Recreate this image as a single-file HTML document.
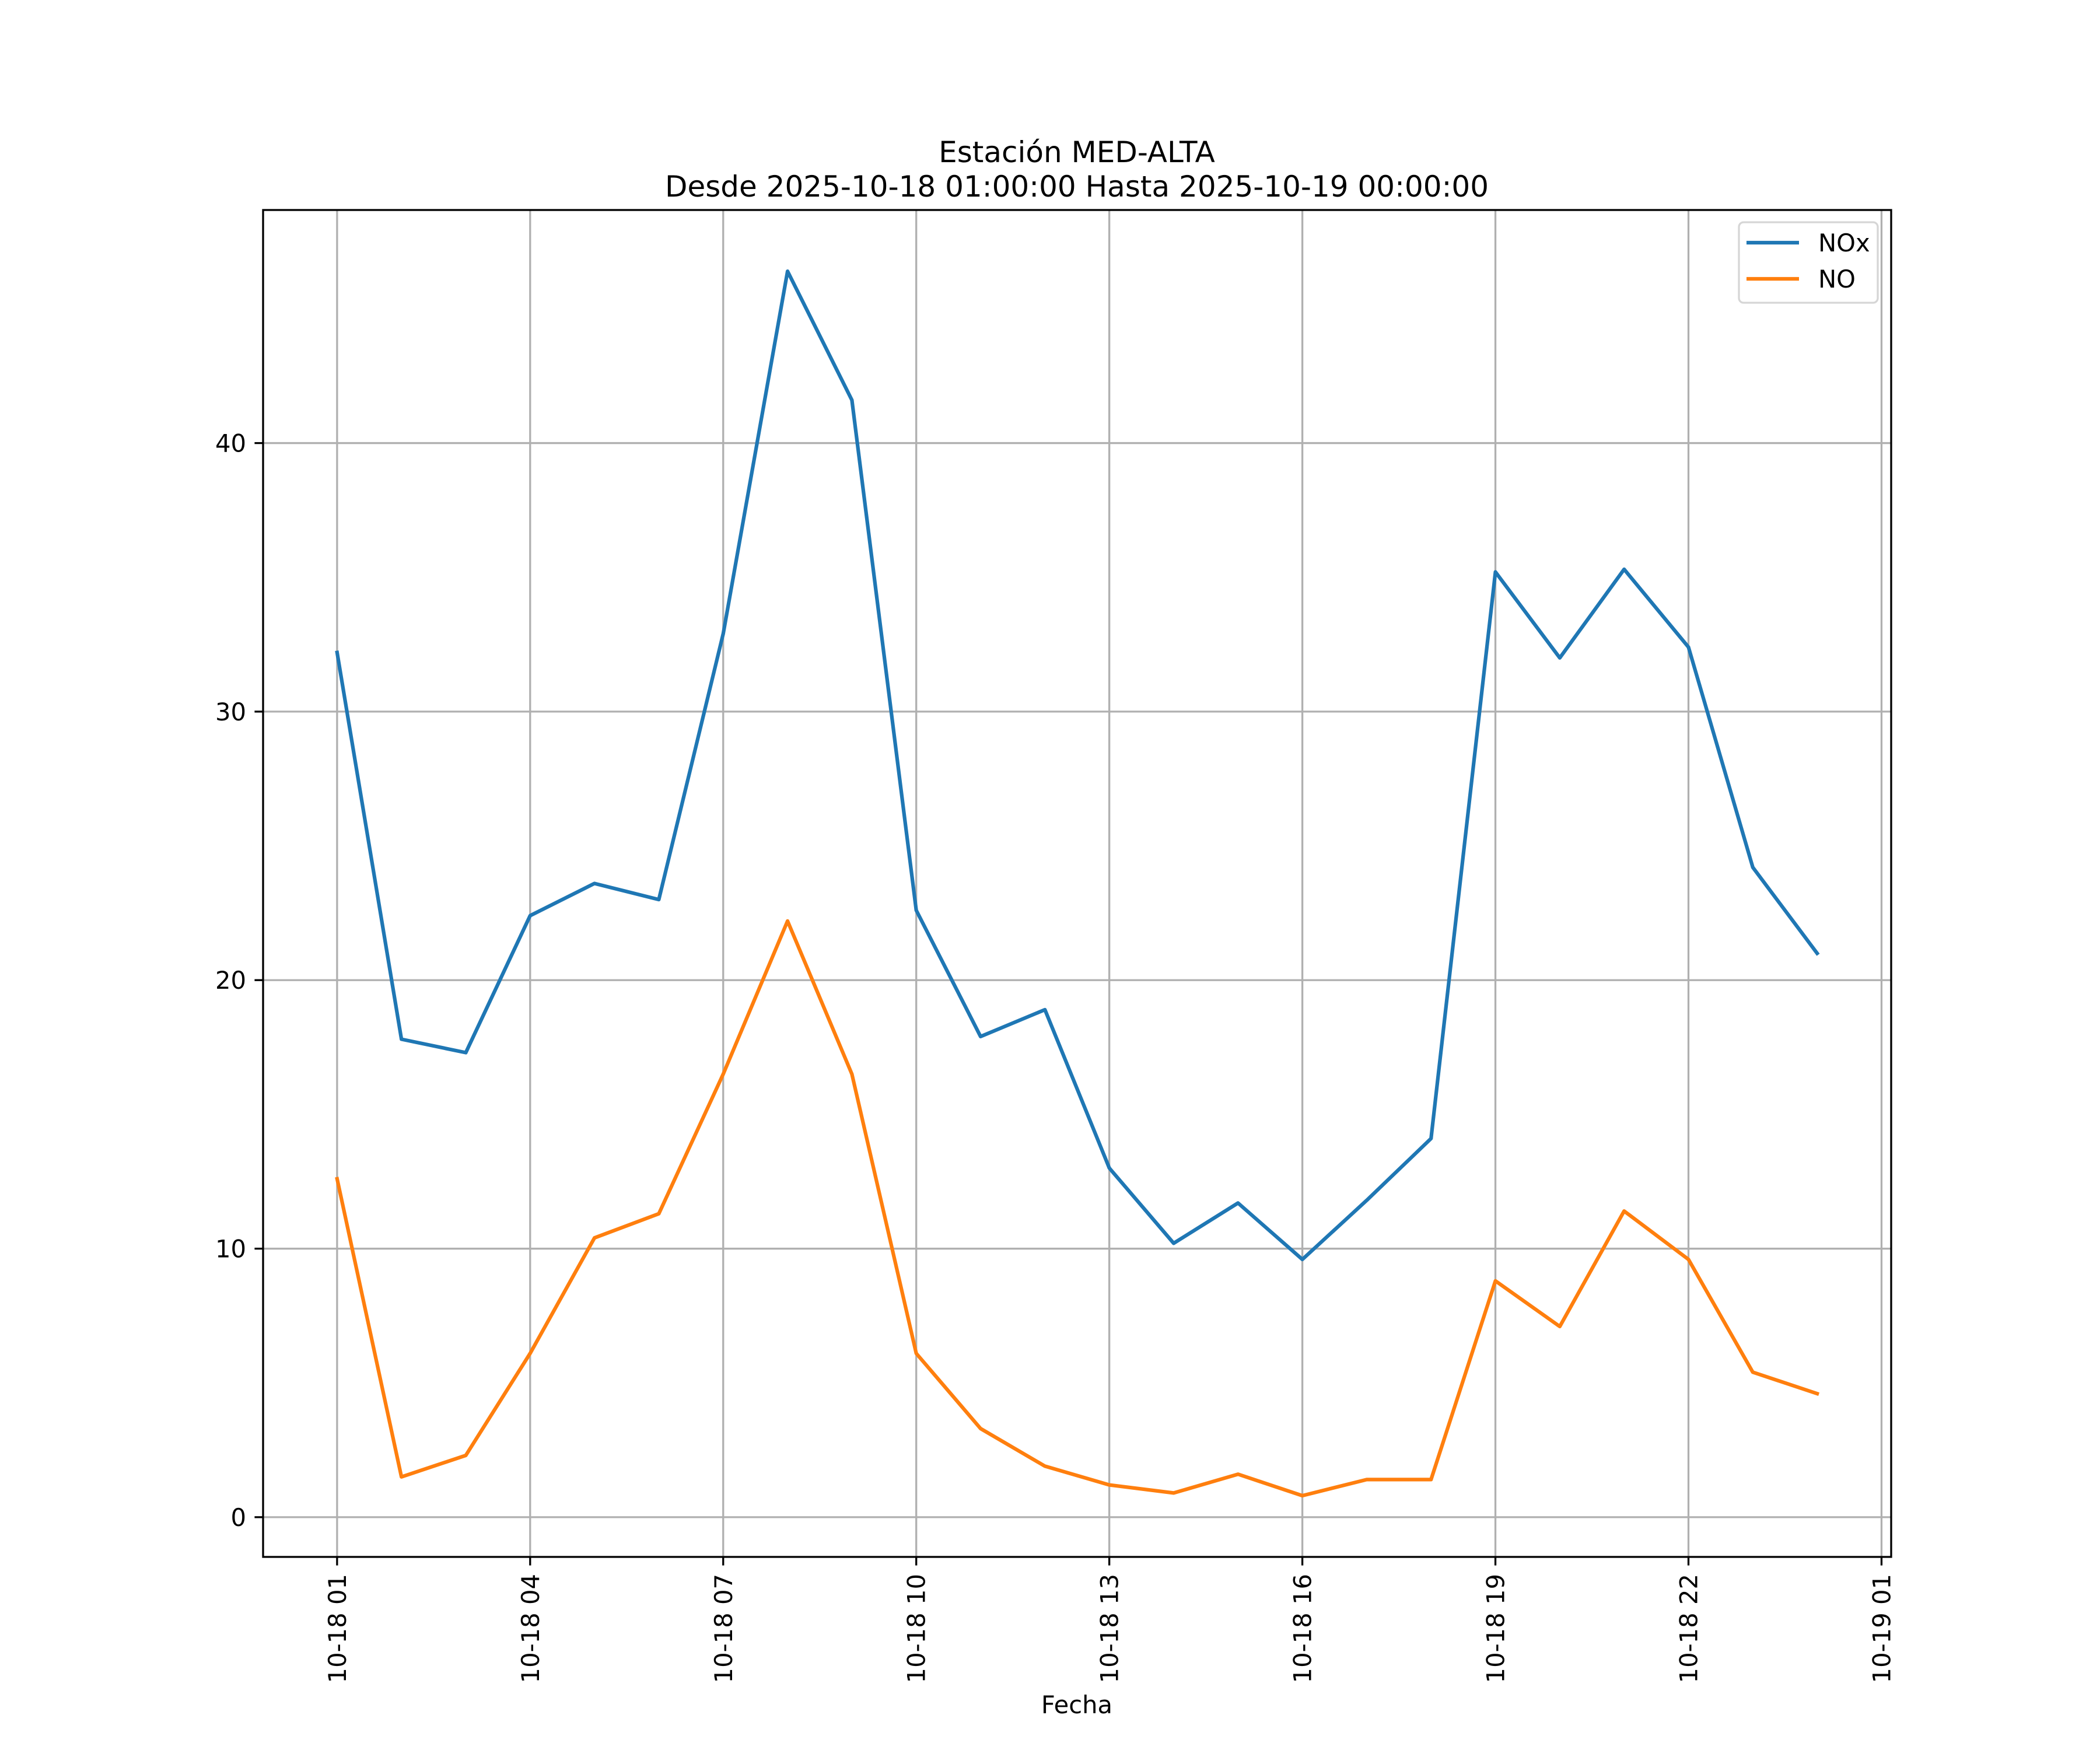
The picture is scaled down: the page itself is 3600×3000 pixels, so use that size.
<!DOCTYPE html>
<html><head><meta charset="utf-8"><style>
html,body{margin:0;padding:0;background:#fff}
svg{display:block}
text{font-family:"DejaVu Sans","Liberation Sans",sans-serif;fill:#000}
</style></head><body>
<svg id="chart" width="3600" height="3000" viewBox="0 0 3600 3000" xmlns="http://www.w3.org/2000/svg">
<rect width="3600" height="3000" fill="#fff"/>
<text x="1846" y="278" font-size="50" text-anchor="middle">Estación MED-ALTA</text>
<text x="1846" y="337" font-size="50" text-anchor="middle">Desde 2025-10-18 01:00:00 Hasta 2025-10-19 00:00:00</text>
<g id="grid"></g>
<g id="series"></g>
<rect x="451" y="360" width="2791" height="2309" fill="none" stroke="#000" stroke-width="3.3"/>
<g id="ticks"></g>
<text x="1846" y="2937" font-size="41.7" text-anchor="middle">Fecha</text>
<g>
<rect x="2981" y="381" width="238" height="138" rx="8" fill="#fff" fill-opacity="0.8" stroke="#d6d6d6" stroke-width="3.3"/>
<line x1="2994" y1="416" x2="3084" y2="416" stroke="#1f77b4" stroke-width="6.25"/>
<text x="3117" y="431" font-size="41.7">NOx</text>
<line x1="2994" y1="478" x2="3084" y2="478" stroke="#ff7f0e" stroke-width="6.25"/>
<text x="3117" y="493" font-size="41.7">NO</text>
</g>
</svg>
<script>
const hours = [0,1,2,3,4,5,6,7,8,9,10,11,12,13,14,15,16,17,18,19,20,21,22,23];
const noxValues = [32.2,17.8,17.3,22.4,23.6,23.0,32.9,46.4,41.6,22.6,17.9,18.9,13.0,10.2,11.7,9.6,11.8,14.1,35.2,32.0,35.3,32.4,24.2,21.0];
const noValues = [12.6,1.5,2.3,6.1,10.4,11.3,16.5,22.2,16.5,6.1,3.3,1.9,1.2,0.9,1.6,0.8,1.4,1.4,8.8,7.1,11.4,9.6,5.4,4.6];
const xTickHours = [0,3,6,9,12,15,18,21,24];
const xTickLabels = ["10-18 01","10-18 04","10-18 07","10-18 10","10-18 13","10-18 16","10-18 19","10-18 22","10-19 01"];
const yTicks = [0,10,20,30,40];

const NS="http://www.w3.org/2000/svg";
const L=451,R=3242,T=360,B=2669;
const all=noxValues.concat(noValues);
const xmin0=Math.min(...hours),xmax0=Math.max(...hours);
const xpad=(xmax0-xmin0)*0.05;
const ymin0=Math.min(...all),ymax0=Math.max(...all);
const ypad=(ymax0-ymin0)*0.05;
const xd=[xmin0-xpad,xmax0+xpad], yd=[ymin0-ypad,ymax0+ypad];
const xs=v=>L+(v-xd[0])/(xd[1]-xd[0])*(R-L);
const ys=v=>B-(v-yd[0])/(yd[1]-yd[0])*(B-T);
function mk(tag,attrs,parent){const e=document.createElementNS(NS,tag);for(const k in attrs)e.setAttribute(k,attrs[k]);parent.appendChild(e);return e;}
const grid=document.getElementById('grid'),ticks=document.getElementById('ticks'),series=document.getElementById('series');
xTickHours.forEach((h,i)=>{
  const x=xs(h);
  const g=mk('line',{x1:x,y1:T,x2:x,y2:B,stroke:'#b0b0b0','stroke-width':3.3},grid);
  
  
  const t=mk('line',{x1:x,y1:B,x2:x,y2:B+14.6,stroke:'#000','stroke-width':3.3},ticks);
  
  
  const lb=mk('text',{x:0,y:0,'font-size':41.7,'text-anchor':'end',transform:`translate(${x+15},${B+29}) rotate(-90)`},ticks);
  lb.textContent=xTickLabels[i];
  
  
});
yTicks.forEach(v=>{
  const y=ys(v);
  const g=mk('line',{x1:L,y1:y,x2:R,y2:y,stroke:'#b0b0b0','stroke-width':3.3},grid);
  
  
  const t=mk('line',{x1:L-14.6,y1:y,x2:L,y2:y,stroke:'#000','stroke-width':3.3},ticks);
  
  
  const lb=mk('text',{x:L-29,y:y+15,'font-size':41.7,'text-anchor':'end'},ticks);
  lb.textContent=String(v);
  
  
});
function line(vals,color,name){
  const d=vals.map((v,i)=>(i?'L':'M')+xs(hours[i]).toFixed(1)+','+ys(v).toFixed(1)).join('');
  const p=mk('path',{d:d,fill:'none',stroke:color,'stroke-width':6.25,'stroke-linejoin':'round','stroke-linecap':'square'},series);
  
  
}
line(noxValues,'#1f77b4','nox-line');
line(noValues,'#ff7f0e','no-line');
</script>
</body></html>
